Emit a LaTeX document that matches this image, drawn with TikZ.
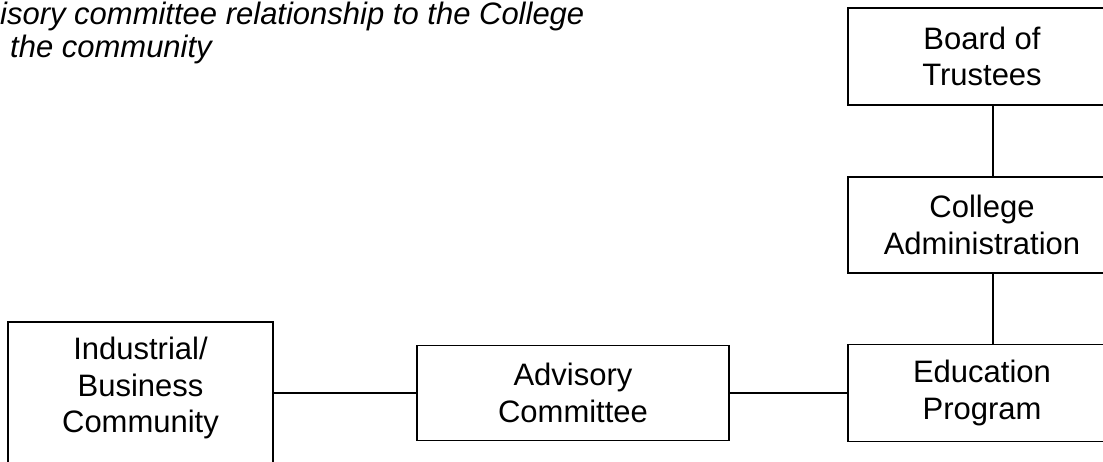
\documentclass[tikz,border=0pt]{standalone}
\usepackage{fontspec}
\setmainfont{Liberation Sans}
\begin{document}
\begin{tikzpicture}[x=1pt,y=-1pt,
  box/.style={draw=black, line width=1.6pt, rectangle, inner sep=0pt, align=center,
    font=\fontsize{31}{36.5}\selectfont},
  txt/.style={inner sep=0pt, align=center, font=\fontsize{31}{36.5}\selectfont},
  link/.style={draw=black, line width=1.6pt},
  title/.style={inner sep=0pt, anchor=base west, font=\fontsize{31}{36}\selectfont\itshape}]
\clip (0,0) rectangle (1103,462);
\fill[white] (0,0) rectangle (1103,462);
\node[title] (t1) at (0,25) {isory committee relationship to the College};
\node[title] (t2) at (10,58) {the community};
\node[box, minimum width=268pt, minimum height=97pt] (board) at (982,56.5) {Board of\\Trustees};
\node[box, minimum width=268pt, minimum height=96pt] (college) at (982,225) {College\\Administration};
\node[box, minimum width=268pt, minimum height=97pt] (edu) at (982,393) {Education\\Program};
\node[box, minimum width=312pt, minimum height=95pt] (adv) at (573,393) {Advisory\\Committee};
\node[box, minimum width=265pt, minimum height=142pt] (ind) at (140.5,393) {};
\node[txt] (indt) at (140.5,388) {Industrial/\\Business\\Community};
\coordinate (vx) at (993,0);
\draw[link] (board.south -| vx) -- (college.north -| vx);
\draw[link] (college.south -| vx) -- (edu.north -| vx);
\draw[link] (ind.east) -- (adv.west);
\draw[link] (adv.east) -- (edu.west);
\end{tikzpicture}
\end{document}
